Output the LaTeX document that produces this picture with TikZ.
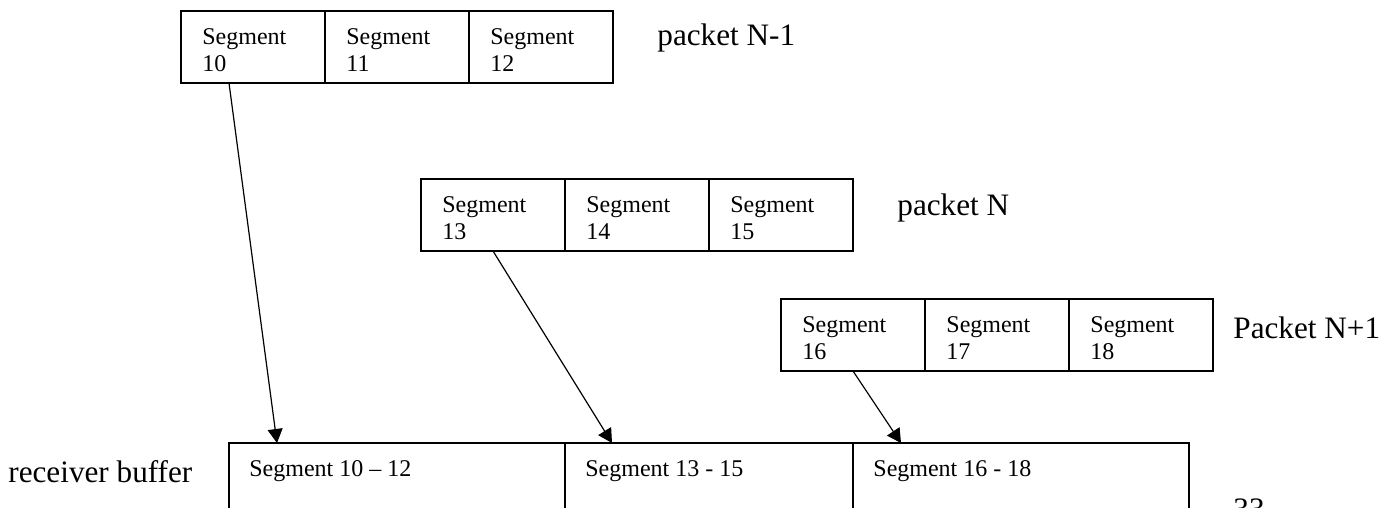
\documentclass[tikz,border=0pt]{standalone}
\usepackage{fontspec}
\setmainfont{Liberation Serif}
\usetikzlibrary{arrows.meta, positioning, calc}

\tikzset{
  cell/.style={draw, line width=0.6pt, outer sep=0pt, inner sep=0pt,
    minimum width=72pt, minimum height=36pt},
  segtext/.style={font=\fontsize{12}{13.5}\selectfont, align=left, inner sep=0pt},
  pktlabel/.style={font=\fontsize{15.6}{18}\selectfont, anchor=base west, inner sep=0pt},
  link/.style={-{Triangle[length=7pt,width=7.5pt]}, line width=0.6pt}
}

\begin{document}
\begin{tikzpicture}[x=0.5pt,y=-0.5pt]

      \useasboundingbox (0,0) rectangle (1394,508);

      % packets N-1, N, N+1
      \foreach \pk/\x/\y/\a/\b/\c in {pa/181/11/10/11/12, pb/421/179/13/14/15, pc/781/299/16/17/18}{
        \node[cell, anchor=north west] (\pk1) at (\x,\y) {};
        \node[cell, right=0pt of \pk1] (\pk2) {};
        \node[cell, right=0pt of \pk2] (\pk3) {};
        \node[segtext, below right=8.4pt and 10.5pt of \pk1.north west] (\pk-t1) {Segment\\\a};
        \node[segtext, below right=8.4pt and 10.5pt of \pk2.north west] (\pk-t2) {Segment\\\b};
        \node[segtext, below right=8.4pt and 10.5pt of \pk3.north west] (\pk-t3) {Segment\\\c};
      }
      \node[pktlabel] (lblpa) at (657,46) {packet N-1};
      \node[pktlabel] (lblpb) at (897,216) {packet N};
      \node[pktlabel] (lblpc) at (1233,338) {Packet N+1};

      % receiver buffer
      \node[cell, anchor=north west, minimum width=168pt, minimum height=60pt] (bf1) at (229,443) {};
      \node[cell, right=0pt of bf1, minimum width=144pt, minimum height=60pt] (bf2) {};
      \node[cell, right=0pt of bf2, minimum width=168pt, minimum height=60pt] (bf3) {};
      \node[segtext, below right=8.4pt and 10pt of bf1.north west] (bf-t1) {Segment 10 -- 12};
      \node[segtext, below right=8.4pt and 10pt of bf2.north west] (bf-t2) {Segment 13 - 15};
      \node[segtext, below right=8.4pt and 10pt of bf3.north west] (bf-t3) {Segment 16 - 18};
      \node[pktlabel] (lblbuf) at (8,482) {receiver buffer};
      \node[pktlabel] (pageno) at (1233,519) {33};

      \coordinate (foot1) at ($(pa1.south west)+(48,0)$);
      \coordinate (tip1) at ($(bf1.north west)+(48,0)$);
      \coordinate (tip2) at ($(bf2.north west)+(47,0)$);
      \coordinate (tip3) at ($(bf3.north west)+(48,0)$);

      \draw[link] (foot1) -- (tip1);
      \draw[link] (pb1.south) -- (tip2);
      \draw[link] (pc1.south) -- (tip3);
\end{tikzpicture}
\end{document}
